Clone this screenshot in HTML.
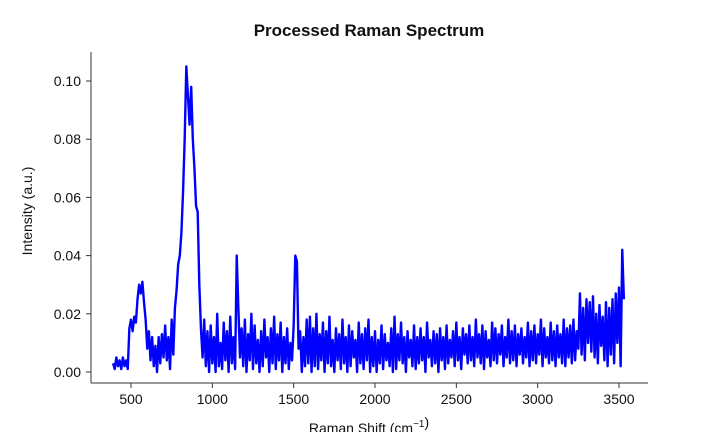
<!DOCTYPE html>
<html><head><meta charset="utf-8"><style>
body{margin:0;background:#fff;font-family:"Liberation Sans",sans-serif}
</style></head><body>
<svg width="720" height="432" viewBox="0 0 720 432" xmlns="http://www.w3.org/2000/svg">
<text x="369" y="36" text-anchor="middle" font-size="17" font-weight="bold" fill="#111">Processed Raman Spectrum</text>
<g id="axes"></g>
<path id="line" fill="none" stroke="#0000ff" stroke-width="2.4" stroke-linejoin="round"/>
<text x="369" y="433" text-anchor="middle" font-size="14" fill="#111">Raman Shift (cm<tspan dy="-6" font-size="10">−1</tspan>)</text>
<text transform="translate(32,211) rotate(-90)" text-anchor="middle" font-size="14" fill="#111">Intensity (a.u.)</text>
</svg>
<script>
const shiftStart = 390;
const shiftStep = 10;
const intensityMilli = [
3,1,5,2,4,1,5,2,4,1,
15,18,14,19,17,25,30,27,31,24,
18,8,14,4,12,2,9,0,12,3,
13,5,16,4,12,1,18,6,22,28,
37,40,48,62,80,105,95,85,98,80,
70,57,55,30,15,5,18,2,14,0,
16,3,12,0,20,2,10,1,17,4,
14,0,19,3,12,1,40,22,5,15,
2,18,0,13,4,20,1,16,3,11,
0,14,2,18,5,12,0,15,3,19,
1,13,4,17,0,12,3,15,1,10,
4,16,40,38,8,14,0,12,2,18,
3,19,0,15,2,20,1,13,4,17,
0,14,3,19,2,11,0,15,4,13,
1,18,3,12,0,16,2,14,5,11,
0,17,3,13,1,15,4,18,0,12,
2,14,0,11,3,16,1,13,4,10,
2,15,0,19,1,13,4,17,3,12,
0,14,5,11,2,16,1,12,3,15,
4,12,0,17,5,11,2,14,3,13,
0,15,4,12,1,16,3,11,5,14,
2,17,4,12,1,15,6,13,3,16,
4,12,2,18,5,13,3,16,1,14,
5,11,2,17,4,15,3,13,6,16,
2,12,5,18,3,14,4,16,2,13,
6,15,3,12,5,17,2,14,4,16,
3,13,6,18,2,15,5,12,3,17,
4,14,2,16,5,13,3,18,2,15,
5,16,3,18,4,14,8,27,6,22,
4,25,10,24,7,26,5,20,3,23,
9,19,4,24,2,22,6,25,3,27,
10,29,2,42,25
];
const xTicks = [500,1000,1500,2000,2500,3000,3500];
const yTicks = [0,0.02,0.04,0.06,0.08,0.10];
const yTickLabels = ["0.00","0.02","0.04","0.06","0.08","0.10"];

const NS="http://www.w3.org/2000/svg";
function xs(v){return 131+(v-500)*(488/3000);}
function ys(v){return 372-v*2910;}
const axes=document.getElementById('axes');
function mk(tag,attrs){const e=document.createElementNS(NS,tag);for(const k in attrs)e.setAttribute(k,attrs[k]);return e;}
const ls=mk('line',{x1:91,y1:52,x2:91,y2:383,stroke:'#333','stroke-width':1});


axes.appendChild(ls);
const bs=mk('line',{x1:91,y1:383,x2:648,y2:383,stroke:'#333','stroke-width':1});


axes.appendChild(bs);
xTicks.forEach(t=>{
  const x=xs(t);
  const tk=mk('line',{x1:x,y1:383,x2:x,y2:388,stroke:'#333'});
  
  
  axes.appendChild(tk);
  const tx=mk('text',{x:x,y:404,'text-anchor':'middle','font-size':14,fill:'#111'});
  tx.textContent=t;
  
  
  axes.appendChild(tx);
});
yTicks.forEach((t,i)=>{
  const y=ys(t);
  const tk=mk('line',{x1:86,y1:y,x2:91,y2:y,stroke:'#333'});
  
  
  axes.appendChild(tk);
  const tx=mk('text',{x:81,y:y+5,'text-anchor':'end','font-size':14,fill:'#111'});
  tx.textContent=yTickLabels[i];
  
  
  axes.appendChild(tx);
});
let d='';
intensityMilli.forEach((v,i)=>{
  const x=xs(shiftStart+i*shiftStep), y=ys(v/1000);
  d+=(i?'L':'M')+x.toFixed(2)+','+y.toFixed(2);
});
document.getElementById('line').setAttribute('d',d);
</script>
</body></html>
